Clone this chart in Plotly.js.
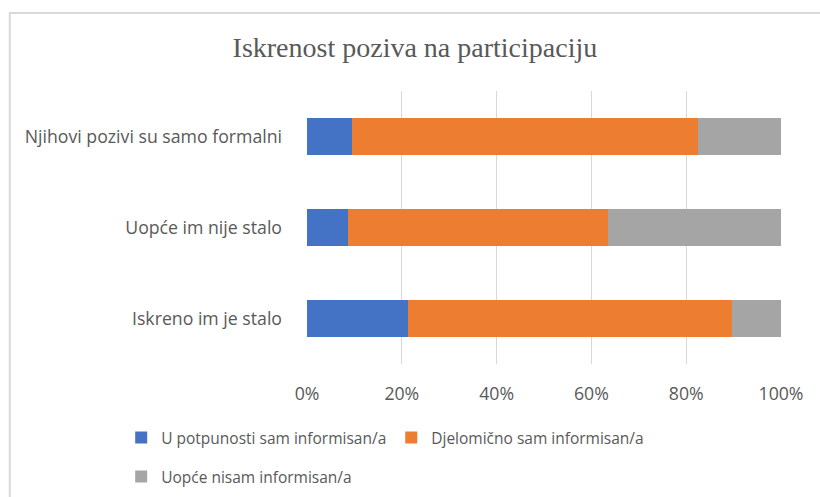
<!DOCTYPE html>
<html><head><meta charset="utf-8">
<script src="https://cdn.plot.ly/plotly-3.0.1.min.js"></script>
<style>html,body{margin:0;padding:0;background:#fff}#chart{width:820px;height:497px}</style>
</head><body><div id="chart"></div>
<script>
const categories = ["Iskreno im je stalo", "Uopće im nije stalo", "Njihovi pozivi su samo formalni"];
const seriesNames = ["U potpunosti sam informisan/a", "Djelomično sam informisan/a", "Uopće nisam informisan/a"];
const fullyInformed = [21.4, 8.7, 9.4];
const partlyInformed = [68.2, 54.7, 73.1];
const notInformed = [10.4, 36.6, 17.5];
const xTicks = [0, 20, 40, 60, 80, 100];
const colors = ["#4472C4", "#ED7D31", "#A5A5A5"];

const seriesValues = [fullyInformed, partlyInformed, notInformed];
const legendIds = ["legend", "legend", "legend2"];
const traces = seriesValues.map((vals, i) => ({
  type: "bar", orientation: "h", name: seriesNames[i],
  x: vals, y: categories, marker: {color: colors[i]},
  width: 0.4, legend: legendIds[i], hoverinfo: "x+name"
}));

const tickFont = {family: "Open Sans, sans-serif", size: 17.7, color: "#595959"};
const legendFont = {family: "Open Sans, sans-serif", size: 15.5, color: "#595959"};
const layout = {
  width: 820, height: 497,
  margin: {l: 307, r: 39, t: 91, b: 133, autoexpand: false},
  paper_bgcolor: "#fff", plot_bgcolor: "#fff",
  barmode: "stack",
  font: tickFont,
  title: {text: "Iskrenost poziva na participaciju", x: 0.506, xanchor: "center", y: 0.905, yanchor: "middle",
          font: {family: "Liberation Serif, serif", size: 28, color: "#595959"}},
  xaxis: {range: [0, 100], tickvals: xTicks, ticktext: xTicks.map(v => v + "%"),
          showgrid: true, gridcolor: "#d9d9d9", gridwidth: 1, zeroline: false, showline: false,
          ticks: "", ticklabelstandoff: 17, tickfont: tickFont, fixedrange: true},
  yaxis: {categoryorder: "array", categoryarray: categories, showgrid: false, zeroline: false,
          showline: false, ticks: "", ticklabelstandoff: 24, tickfont: tickFont, fixedrange: true},
  legend: {orientation: "h", x: -0.392, xanchor: "left", y: -0.271, yanchor: "middle",
           font: legendFont, itemclick: false, traceorder: "normal"},
  legend2: {orientation: "h", x: -0.392, xanchor: "left", y: -0.414, yanchor: "middle",
           font: legendFont, itemclick: false},
  shapes: [{type: "rect", xref: "paper", yref: "paper", x0: -0.627, x1: 1.2, y0: -0.6, y1: 1.286,
            line: {color: "#d9d9d9", width: 2}, fillcolor: "rgba(0,0,0,0)", layer: "below"}],
  showlegend: true
};
Plotly.newPlot("chart", traces, layout, {displayModeBar: false, staticPlot: true});
</script></body></html>
